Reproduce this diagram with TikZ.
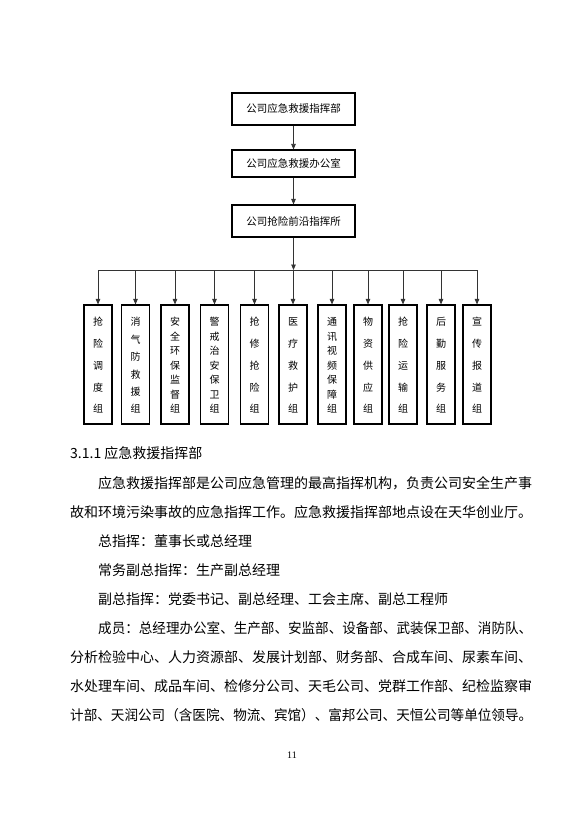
\documentclass[tikz,border=0pt]{standalone}
\usepackage{fontspec}
\setmainfont{Noto Sans CJK SC}
\newfontfamily\numfont{Liberation Serif}
\usetikzlibrary{arrows.meta,positioning}
\tikzset{
  topbox/.style={draw,line width=1.1pt,minimum width=123pt,inner sep=0pt,font=\fontsize{10.5pt}{10.5pt}\selectfont},
  groupbox/.style={draw,line width=1.1pt,minimum width=28pt,minimum height=119pt,inner sep=0pt},
  groupchar/.style={inner sep=0pt,font=\fontsize{10pt}{10pt}\selectfont},
  link/.style={line width=0.8pt,black!80,-{Triangle[width=4.5pt,length=5.5pt]}},
  bodyline/.style={anchor=west,inner sep=0pt,font=\fontsize{14pt}{14pt}\selectfont},
}
\newcommand{\fitline}[2]{\resizebox{#1}{\height}{#2}}

\begin{document}
\begin{tikzpicture}[x=1pt,y=-1pt]
\useasboundingbox (0,0) rectangle (584,821);
% command chain
\node[topbox,minimum height=32pt] (hq) at (293.5,109) {公司应急救援指挥部};
\node[topbox,minimum height=27pt] (office) at (293.5,163.5) {公司应急救援办公室};
\node[topbox,minimum height=32pt] (post) at (293.5,221) {公司抢险前沿指挥所};
\coordinate (bus) at (293.5,270);
\draw[link] (hq) -- (office);
\draw[link] (office) -- (post);
\draw[link] (post) -- (bus);
% working groups
\foreach \i/\x/\n/\chars in {1/98/5/{抢,险,调,度,组},2/135.5/6/{消,气,防,救,援,组},3/175/7/{安,全,环,保,监,督,组},4/214.5/7/{警,戒,治,安,保,卫,组},5/254.5/5/{抢,修,抢,险,组},6/293/5/{医,疗,救,护,组},7/332/7/{通,讯,视,频,保,障,组},8/368/5/{物,资,供,应,组},9/403/5/{抢,险,运,输,组},10/441/5/{后,勤,服,务,组},11/477/5/{宣,传,报,道,组}}{
  \node[groupbox] (g\i) at (\x,364.5) {};
  \foreach \c [count=\k] in \chars
    \node[groupchar] at (\x,{322+(\k-1)*87/(\n-1)}) {\c};
  \draw[link] (g\i |- bus) -- (g\i);
}
\draw[line width=0.8pt,black!80] (g1 |- bus) -- (g11 |- bus);
% text below
\node[bodyline] (head) at (70,453) {3.1.1 应急救援指挥部};
\node[bodyline] (p1) at (98,483) {\fitline{434pt}{应急救援指挥部是公司应急管理的最高指挥机构，负责公司安全生产事}};
\node[bodyline] (p2) at (70,512) {\fitline{462pt}{故和环境污染事故的应急指挥工作。应急救援指挥部地点设在天华创业厅。}};
\node[bodyline] (p3) at (98,541) {总指挥：董事长或总经理};
\node[bodyline] (p4) at (98,570) {常务副总指挥：生产副总经理};
\node[bodyline] (p5) at (98,599) {副总指挥：党委书记、副总经理、工会主席、副总工程师};
\node[bodyline] (p6) at (98,628) {\fitline{434pt}{成员：总经理办公室、生产部、安监部、设备部、武装保卫部、消防队、}};
\node[bodyline] (p7) at (70,657) {\fitline{462pt}{分析检验中心、人力资源部、发展计划部、财务部、合成车间、尿素车间、}};
\node[bodyline] (p8) at (70,686) {\fitline{462pt}{水处理车间、成品车间、检修分公司、天毛公司、党群工作部、纪检监察审}};
\node[bodyline] (p9) at (70,715) {\fitline{462pt}{计部、天润公司（含医院、物流、宾馆）、富邦公司、天恒公司等单位领导。}};
\node[font=\numfont\fontsize{10pt}{10pt}\selectfont] (pnum) at (292,755) {11};
\end{tikzpicture}
\end{document}
